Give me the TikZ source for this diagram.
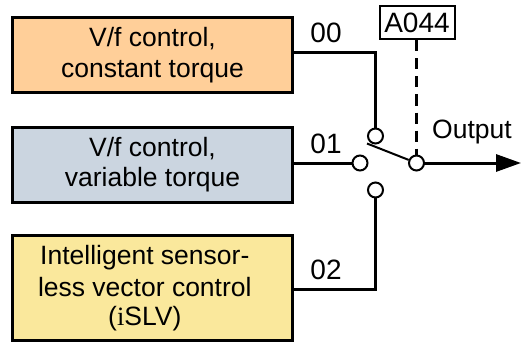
\documentclass[tikz,border=0pt]{standalone}
\usepackage{fontspec}
\setmainfont{Liberation Sans}
\newfontfamily\serifi{Liberation Serif}
\usetikzlibrary{arrows.meta}
\definecolor{boxorange}{HTML}{FFCF99}
\definecolor{boxblue}{HTML}{CBD5E0}
\definecolor{boxyellow}{HTML}{FAE89C}
\tikzset{
  x=1pt,y=-1pt,
  ctrl/.style={draw=black,line width=3pt,minimum width=280pt,inner sep=0pt,align=center,font=\fontsize{26.5}{31.5}\selectfont},
  ctrltext/.style={inner sep=0pt,align=center,font=\fontsize{26.5}{31.5}\selectfont},
  contact/.style={circle,draw=black,fill=white,line width=2pt,minimum size=15pt,inner sep=0pt},
  wire/.style={line width=3pt,line join=miter},
  lab/.style={font=\fontsize{28}{32}\selectfont,inner sep=0pt,anchor=base},
}
\begin{document}
\begin{tikzpicture}
\useasboundingbox (0,0) rectangle (521,342);
\node[ctrl,fill=boxorange,minimum height=75pt] (a) at (152.5,55) {V/f control,\\constant torque};
\node[ctrl,fill=boxblue,minimum height=75pt] (b) at (152.5,164.5) {V/f control,\\[-2pt]variable torque};
\node[ctrl,fill=boxyellow,minimum height=105pt] (c) at (152.5,288) {};
\node[ctrltext] (ctext) at (144.8,288) {Intelligent sensor-\\less vector control\\[-2.5pt]({\serifi i}SLV)};
\coordinate (ca) at (375.5,136);
\coordinate (cb) at (360,163);
\coordinate (cc) at (375.5,190);
\coordinate (co) at (416.5,163);
\coordinate (tipa) at (375.5,53);
\coordinate (tipc) at (375.5,289);
\coordinate (end) at (521,163);
\coordinate (swstart) at (367,143.5);
\draw[wire] (a.east |- tipa) -- (tipa) -- (ca);
\draw[wire] (b.east |- cb) -- (cb);
\draw[wire] (c.east |- tipc) -- (tipc) -- (cc);
\draw[wire,-{Triangle[length=25pt,width=17pt]}] (co) -- (end);
\node[draw=black,fill=white,line width=2pt,minimum width=75pt,minimum height=33pt,inner sep=0pt,font=\fontsize{28}{32}\selectfont] (sel) at (417,23) {A044};
\draw[line width=3pt,dash pattern=on 11pt off 7pt] (sel.south -| co) -- (co);
\node[contact] (na) at (ca) {};
\node[contact] (nb) at (cb) {};
\node[contact] (nc) at (cc) {};
\node[contact] (no) at (co) {};
\draw[line width=2pt] (swstart) -- (no);
\node[lab] (l0) at (326,43) {00};
\node[lab] (l1) at (326,153) {01};
\node[lab] (l2) at (326,279) {02};
\node[lab,font=\fontsize{26.5}{30}\selectfont] (lo) at (472,138) {Output};
\end{tikzpicture}
\end{document}
